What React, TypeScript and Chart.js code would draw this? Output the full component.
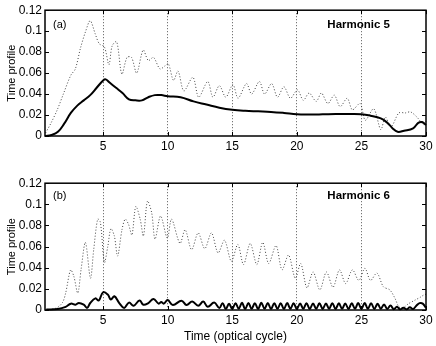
import React, { useEffect, useRef } from 'react';
import { Chart, registerables } from 'chart.js';

Chart.register(...registerables);

const FONT = '"Liberation Sans", Arial, Helvetica, sans-serif';

const xTicks = [5, 10, 15, 20, 25, 30];
const yTicks = [0, 0.02, 0.04, 0.06, 0.08, 0.1, 0.12];
const yTickLabels = ['0', '0.02', '0.04', '0.06', '0.08', '0.1', '0.12'];
const yTitle = 'Time profile';
const xTitle = 'Time (optical cycle)';
const panelLabels = ['(a)', '(b)'];
const harmonicLabels = ['Harmonic 5', 'Harmonic 6'];

// Harmonic 5, solid curve
const h5SolidX = [0.5, 1, 1.5, 2, 2.5, 3, 3.5, 4, 4.5, 5, 5.2, 5.5, 6, 6.5, 7, 7.5, 8, 8.5, 9, 9.5, 10, 11, 12, 13, 14, 15, 16, 17, 18, 19, 20, 21, 22, 23, 24, 25, 25.7, 26.5, 27, 27.4, 27.8, 28.3, 29, 29.4, 29.7, 30];
const h5SolidY = [0.0, 0.001, 0.004, 0.012, 0.022, 0.029, 0.034, 0.039, 0.046, 0.053, 0.054, 0.051, 0.046, 0.041, 0.035, 0.034, 0.034, 0.037, 0.039, 0.039, 0.038, 0.037, 0.033, 0.03, 0.027, 0.025, 0.024, 0.0235, 0.023, 0.022, 0.0207, 0.0205, 0.0207, 0.021, 0.021, 0.0208, 0.0194, 0.0168, 0.0127, 0.0075, 0.004, 0.005, 0.0073, 0.0125, 0.0133, 0.0105];

// Harmonic 5, dotted curve
const h5DotX = [0.55, 0.95, 1.45, 1.95, 2.5, 2.85, 3.25, 3.65, 4.0, 4.4, 4.7, 5.1, 5.45, 5.7, 6.05, 6.45, 6.85, 7.2, 7.6, 8.1, 8.5, 8.9, 9.4, 9.8, 10.05, 10.45, 10.8, 11.25, 11.95, 12.4, 13.1, 13.5, 14.0, 14.5, 15.05, 15.45, 16.1, 16.5, 17.1, 17.5, 18.05, 18.5, 19.0, 19.5, 20.05, 20.5, 20.95, 21.5, 21.9, 22.4, 22.9, 23.35, 23.9, 24.3, 24.9, 25.3, 25.95, 26.5, 26.85, 27.3, 27.9, 28.4, 28.8, 29.3, 29.8, 30];
const h5DotY = [0.003, 0.012, 0.025, 0.041, 0.058, 0.064, 0.084, 0.1, 0.11, 0.097, 0.088, 0.085, 0.068, 0.086, 0.09, 0.059, 0.075, 0.075, 0.06, 0.082, 0.072, 0.075, 0.064, 0.067, 0.069, 0.053, 0.062, 0.043, 0.056, 0.037, 0.052, 0.037, 0.048, 0.037, 0.049, 0.036, 0.05, 0.04, 0.052, 0.04, 0.05, 0.037, 0.047, 0.036, 0.044, 0.034, 0.041, 0.033, 0.041, 0.031, 0.039, 0.028, 0.036, 0.025, 0.031, 0.015, 0.026, 0.006, 0.018, 0.009, 0.022, 0.022, 0.023, 0.018, 0.011, 0.014];

// Harmonic 6, solid curve
const h6SolidX = [0.6, 1.5, 2.1, 2.5, 2.86, 3.12, 3.5, 3.76, 4.0, 4.4, 4.66, 5.0, 5.36, 5.6, 5.87, 6.25, 6.63, 7.0, 7.36, 7.82, 8.12, 8.5, 8.9, 9.3, 9.5, 9.7, 10.0, 10.4, 11.07, 11.46, 11.9, 12.36, 12.75, 13.1, 13.6,
  14.0, 14.25, 14.5, 14.75, 15.0, 15.25, 15.5, 15.75, 16.0, 16.25, 16.5, 16.75, 17.0, 17.25, 17.5, 17.75, 18.0, 18.25, 18.5, 18.75, 19.0, 19.25, 19.5, 19.75, 20.0, 20.25, 20.5, 20.75, 21.0, 21.25, 21.5, 21.75, 22.0, 22.25, 22.5, 22.75, 23.0, 23.25, 23.5, 23.75, 24.0, 24.25, 24.5, 24.75, 25.0, 25.25, 25.5, 25.75, 26.0, 26.25, 26.5, 26.75, 27.0, 27.25, 27.5, 27.75, 28.0, 28.25, 28.5, 28.75, 29.0, 29.25, 29.5, 29.75, 30.0];
const h6SolidY = [0.0005, 0.001, 0.003, 0.006, 0.005, 0.0066, 0.005, 0.002, 0.0066, 0.011, 0.009, 0.0168, 0.0146, 0.01, 0.013, 0.0066, 0.002, 0.007, 0.004, 0.009, 0.005, 0.0066, 0.0104, 0.006, 0.0075, 0.006, 0.0095, 0.0047, 0.0088, 0.0047, 0.008, 0.004, 0.008, 0.003, 0.007,
  0.002, 0.0065, 0.001, 0.006, 0.001, 0.0065, 0.0012, 0.0068, 0.001, 0.0066, 0.0012, 0.0065, 0.001, 0.0068, 0.0012, 0.0066, 0.001, 0.0065, 0.0012, 0.0064, 0.001, 0.0066, 0.0012, 0.0064, 0.001, 0.0062, 0.0012, 0.0064, 0.001, 0.0062, 0.0012, 0.0063, 0.001, 0.0062, 0.0012, 0.0064, 0.001, 0.0063, 0.0012, 0.0062, 0.001, 0.0064, 0.0012, 0.0066, 0.001, 0.0066, 0.0012, 0.0064, 0.001, 0.0058, 0.0012, 0.0052, 0.001, 0.0042, 0.0008, 0.003, 0.0006, 0.0022, 0.0006, 0.0025, 0.001, 0.004, 0.0065, 0.006, 0.002];

// Harmonic 6, dotted curve
const h6DotX = [0.6, 1.4, 1.85, 2.1, 2.48, 2.73, 3.04, 3.3, 3.63, 4.02, 4.27, 4.58, 4.79, 5.1, 5.36, 5.6, 5.87, 6.12, 6.46, 6.71, 6.97, 7.23, 7.53, 7.87, 8.12, 8.43, 8.76, 9.02, 9.45, 9.97, 10.3, 10.95, 11.35, 11.85, 12.36, 12.87, 13.39, 13.9, 14.4, 14.93, 15.43, 15.87, 16.39, 16.9, 17.36, 17.82, 18.39, 18.85, 19.36, 19.88, 20.3, 20.78, 21.26, 21.78, 22.29, 22.8, 23.3, 23.78, 24.3, 24.8, 25.27, 25.7, 26.2, 26.7, 27.2, 27.6, 27.9, 28.2, 28.65, 29.17, 29.55, 29.8, 30];
const h6DotY = [0.0, 0.002, 0.007, 0.016, 0.038, 0.032, 0.016, 0.039, 0.064, 0.03, 0.057, 0.086, 0.083, 0.045, 0.06, 0.077, 0.07, 0.051, 0.076, 0.086, 0.081, 0.071, 0.098, 0.086, 0.07, 0.103, 0.092, 0.067, 0.089, 0.068, 0.086, 0.063, 0.076, 0.057, 0.073, 0.058, 0.073, 0.054, 0.066, 0.046, 0.062, 0.043, 0.063, 0.043, 0.064, 0.044, 0.061, 0.038, 0.052, 0.03, 0.044, 0.021, 0.036, 0.019, 0.036, 0.0215, 0.038, 0.025, 0.038, 0.028, 0.0395, 0.028, 0.035, 0.022, 0.019, 0.011, 0.003, 0.002, 0.006, 0.0095, 0.012, 0.014, 0.015];

const framePlugin = {
  id: 'frame',
  afterDraw(chart: any, _args: any, opts: any) {
    const { ctx, chartArea: a, scales } = chart;
    ctx.save();
    ctx.setLineDash([]);
    ctx.strokeStyle = '#000';
    ctx.lineWidth = 1;
    const tl = 4;
    scales.y.ticks.forEach((t: any) => {
      const y = Math.round(scales.y.getPixelForValue(t.value)) + 0.5;
      ctx.beginPath();
      ctx.moveTo(a.left, y); ctx.lineTo(a.left + tl, y);
      ctx.moveTo(a.right, y); ctx.lineTo(a.right - tl, y);
      ctx.stroke();
    });
    scales.x.ticks.forEach((t: any) => {
      const x = Math.round(scales.x.getPixelForValue(t.value)) + 0.5;
      ctx.beginPath();
      ctx.moveTo(x, a.bottom); ctx.lineTo(x, a.bottom - tl);
      ctx.moveTo(x, a.top); ctx.lineTo(x, a.top + tl);
      ctx.stroke();
    });
    ctx.lineWidth = 1.5;
    ctx.strokeRect(a.left, a.top, a.right - a.left, a.bottom - a.top);
    ctx.fillStyle = '#000';
    ctx.textBaseline = 'middle';
    ctx.textAlign = 'left';
    ctx.font = `11px ${FONT}`;
    ctx.fillText(opts.panel, a.left + 8, a.top + opts.dy);
    ctx.textAlign = 'right';
    ctx.font = `bold 11.5px ${FONT}`;
    ctx.fillText(opts.harmonic, a.right - 36, a.top + opts.dy);
    ctx.restore();
  },
};

function toPoints(xs: number[], ys: number[]) {
  return xs.map((x, i) => ({ x, y: ys[i] }));
}

interface PanelProps {
  solidX: number[]; solidY: number[]; dotX: number[]; dotY: number[];
  panel: string; harmonic: string; showXTitle: boolean;
  height: number; axisHeight: number; top: number; dy: number;
}

function Panel(p: PanelProps) {
  const ref = useRef<HTMLCanvasElement>(null);
  useEffect(() => {
    if (!ref.current) return;
    Chart.defaults.font.family = FONT;
    Chart.defaults.color = '#000';
    const chart = new Chart(ref.current, {
      type: 'line',
      data: {
        datasets: [
          {
            data: toPoints(p.solidX, p.solidY),
            borderColor: '#000', borderWidth: 2, pointRadius: 0, tension: 0.4,
            fill: false, clip: 3,
          },
          {
            data: toPoints(p.dotX, p.dotY),
            borderColor: '#444', borderWidth: 1, borderDash: [1, 2], pointRadius: 0, tension: 0.3,
            fill: false, clip: 3,
          },
        ],
      },
      options: {
        responsive: false,
        animation: false,
        events: [],
        layout: { padding: { top: 10, right: 10, left: 0, bottom: 0 } },
        plugins: {
          legend: { display: false },
          tooltip: { enabled: false },
          frame: { panel: p.panel, harmonic: p.harmonic, dy: p.dy },
        } as any,
        scales: {
          x: {
            type: 'linear', min: 0.5, max: 30,
            afterBuildTicks: (s: any) => { s.ticks = xTicks.map((v) => ({ value: v })); },
            afterFit: (s: any) => { s.height = p.axisHeight; },
            ticks: { font: { size: 12 }, color: '#000', padding: 3, maxRotation: 0, callback: (v: any) => String(v) },
            grid: {
              drawTicks: false, drawOnChartArea: true, lineWidth: 1,
              color: (c: any) => (c.tick && c.tick.value < 30 ? '#555' : 'rgba(0,0,0,0)'),
            },
            border: { display: false, dash: [1, 2] },
            title: {
              display: p.showXTitle, text: xTitle, color: '#000',
              font: { size: 12 }, padding: { top: 0, bottom: 2 },
            },
          },
          y: {
            type: 'linear', min: 0, max: 0.12,
            afterBuildTicks: (s: any) => { s.ticks = yTicks.map((v) => ({ value: v })); },
            afterFit: (s: any) => { s.width = 45; },
            ticks: { font: { size: 12 }, color: '#000', padding: 3, callback: (_v: any, i: number) => yTickLabels[i] },
            grid: { display: false, drawTicks: false },
            border: { display: false },
            title: {
              display: true, text: yTitle, color: '#000',
              font: { size: 11 }, padding: { top: 5, bottom: 0 },
            },
          },
        },
      } as any,
      plugins: [framePlugin],
    });
    return () => chart.destroy();
  }, []);
  return (
    <canvas
      ref={ref}
      width={436}
      height={p.height}
      style={{ position: 'absolute', left: 0, top: p.top, width: 436, height: p.height, display: 'block' }}
    />
  );
}

export default function App() {
  return (
    <div style={{ position: 'absolute', left: 0, top: 0, width: 436, height: 346, background: '#fff' }}>
      <Panel solidX={h5SolidX} solidY={h5SolidY} dotX={h5DotX} dotY={h5DotY}
        panel={panelLabels[0]} harmonic={harmonicLabels[0]} showXTitle={false}
        height={162} axisHeight={26} top={0} dy={15} />
      <Panel solidX={h6SolidX} solidY={h6SolidY} dotX={h6DotX} dotY={h6DotY}
        panel={panelLabels[1]} harmonic={harmonicLabels[1]} showXTitle={true}
        height={173} axisHeight={36} top={173} dy={13} />
    </div>
  );
}
